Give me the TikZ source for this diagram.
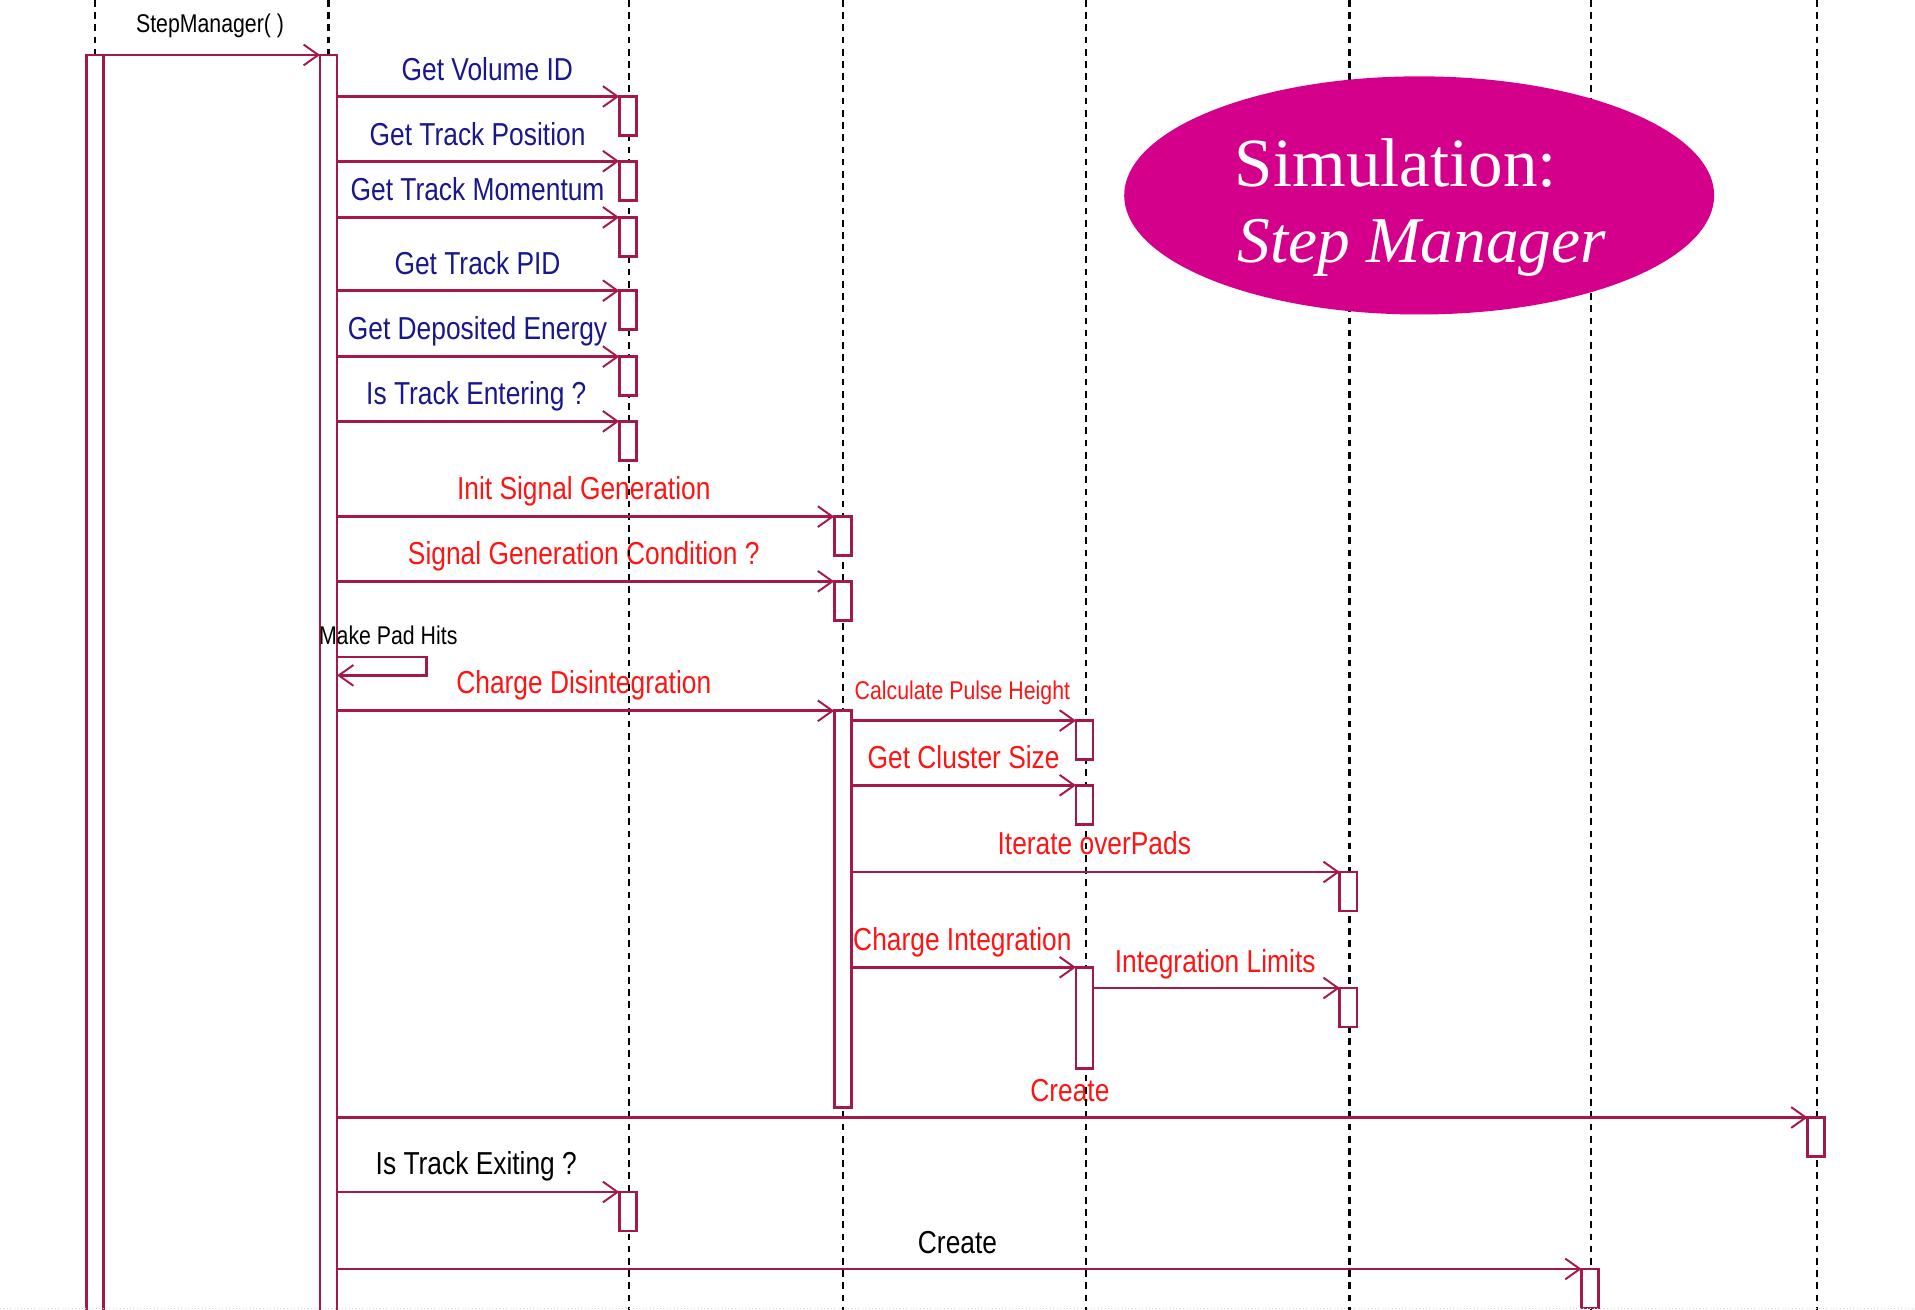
\documentclass[tikz,border=0pt]{standalone}
\usepackage{fontspec}
\setmainfont{Liberation Serif}
\newfontfamily\seqfont[FakeStretch=0.83]{Liberation Sans}
\usetikzlibrary{arrows.meta,shapes.geometric}

\definecolor{umlline}{RGB}{165,25,70}
\definecolor{msgblue}{RGB}{24,24,140}
\definecolor{msgred}{RGB}{255,20,20}
\definecolor{titlefill}{RGB}{212,0,140}

\tikzset{
  lifeline/.style={draw=black, line width=1.8pt, dash pattern=on 5.5pt off 4.5pt},
  actbox/.style={rectangle, draw=umlline, fill=white, line width=2.2pt,
    minimum width=14pt, minimum height=32pt, inner sep=0pt, outer sep=0pt,
    anchor=north west},
  msg/.style={draw=umlline, line width=2.2pt,
    -{Straight Barb[length=12pt,width=17pt,line width=1.6pt]}},
  biglbl/.style={font=\seqfont\fontsize{26}{30}\selectfont, anchor=base, inner sep=0pt},
  smalllbl/.style={font=\seqfont\fontsize{21}{24}\selectfont, anchor=base, inner sep=0pt},
}

\begin{document}
\begin{tikzpicture}[x=1pt,y=-1pt]
\useasboundingbox (0,0) rectangle (1568,1072);
\clip (0,0) rectangle (1568,1072);

% ---- message labels (lifelines are drawn over them) ----
\node[smalllbl, text=black] (tStep) at (172,27) {StepManager( )};
\node[biglbl, text=msgblue] (tVol) at (399,66) {Get Volume ID};
\node[biglbl, text=msgblue] (tPos) at (391,119) {Get Track Position};
\node[biglbl, text=msgblue] (tMom) at (391,164) {Get Track Momentum};
\node[biglbl, text=msgblue] (tPid) at (391,225) {Get Track PID};
\node[biglbl, text=msgblue] (tDep) at (391,278) {Get Deposited Energy};
\node[biglbl, text=msgblue] (tEnt) at (390,331) {Is Track Entering ?};
\node[biglbl, text=msgred] (tInit) at (478,409) {Init Signal Generation};
\node[biglbl, text=msgred] (tCond) at (478,462) {Signal Generation Condition ?};
\node[biglbl, text=msgred] (tDis) at (478,568) {Charge Disintegration};
\node[smalllbl, text=msgred] (tPulse) at (788,573) {Calculate Pulse Height};
\node[biglbl, text=msgred] (tClus) at (789,629) {Get Cluster Size};
\node[biglbl, text=msgred] (tIter) at (896,700) {Iterate overPads};
\node[biglbl, text=msgred] (tInt) at (788,778) {Charge Integration};
\node[biglbl, text=msgred] (tLim) at (995,796) {Integration Limits};
\node[biglbl, text=msgred] (tCrA) at (876,902) {Create};
\node[biglbl, text=black] (tExit) at (390,962) {Is Track Exiting ?};
\node[biglbl, text=black] (tCrB) at (784,1026) {Create};

% ---- lifelines ----
\foreach \name/\x in {l1/78, l2/269, l3/515, l4/690, l5/889, l6/1105, l7/1303, l8/1488}{
  \coordinate (\name) at (\x,0);
  \draw[lifeline] (\name) -- ++(0,1080);
}

% ---- title ellipse ----
\node[ellipse, fill=titlefill, minimum width=483pt, minimum height=195pt, inner sep=0pt]
  (title) at (1162,160) {};
\node[anchor=base west, inner sep=0pt, text=white, font=\fontsize{56.5}{60}\selectfont]
  (title1) at (1011,153) {Simulation:};
\node[anchor=base west, inner sep=0pt, text=white, font=\fontsize{53.5}{60}\itshape\selectfont]
  (title2) at (1013,215) {Step Manager};

% ---- activations ----
\node[actbox, minimum height=1040pt] (act1) at (71,45) {};
\node[actbox, minimum height=1040pt] (act2) at (262,45) {};

\node[actbox] (bVol) at (507,79) {};
\node[actbox] (bPos) at (507,132) {};
\node[actbox] (bMom) at (507,178) {};
\node[actbox] (bPid) at (507,238) {};
\node[actbox] (bDep) at (507,292) {};
\node[actbox] (bEnt) at (507,345) {};
\node[actbox] (bInit) at (683,423) {};
\node[actbox] (bCond) at (683,476) {};
\node[actbox, minimum height=325pt] (act4) at (683,582) {};
\node[actbox] (bPulse) at (881,590) {};
\node[actbox] (bClus) at (881,643) {};
\node[actbox] (bIter) at (1097,714) {};
\node[actbox, minimum height=83pt] (act5) at (881,792) {};
\node[actbox] (bLim) at (1097,809) {};
\node[actbox] (bCrA) at (1480,915) {};
\node[actbox] (bExit) at (507,976) {};
\node[actbox] (bCrB) at (1295,1039) {};

% self-call label sits over the activation bar
\node[smalllbl, text=black, anchor=base west] (tPad) at (261,528) {Make Pad Hits};

% ---- messages ----
\draw[msg] (act1.east |- act2.north west) -- (act2.north west);
\foreach \b in {bVol,bPos,bMom,bPid,bDep,bEnt,bInit,bCond,act4,bCrA,bExit,bCrB}{
  \draw[msg] (act2.east |- \b.north west) -- (\b.north west);
}
\foreach \b in {bPulse,bClus,bIter,act5}{
  \draw[msg] (act4.east |- \b.north west) -- (\b.north west);
}
\draw[msg] (act5.east |- bLim.north west) -- (bLim.north west);

% self call: Make Pad Hits
\coordinate (padTop) at (0,538);
\coordinate (padBot) at (0,553);
\coordinate (padRight) at (349,0);
\draw[msg] (act2.east |- padTop) -- (padRight |- padTop) -- (padRight |- padBot)
  -- (act2.east |- padBot);

% faint page edge
\coordinate (edgeL) at (0,1071);
\coordinate (edgeR) at (1568,1071);
\draw[gray!35, dotted, line width=0.8pt] (edgeL) -- (edgeR);
\end{tikzpicture}
\end{document}
